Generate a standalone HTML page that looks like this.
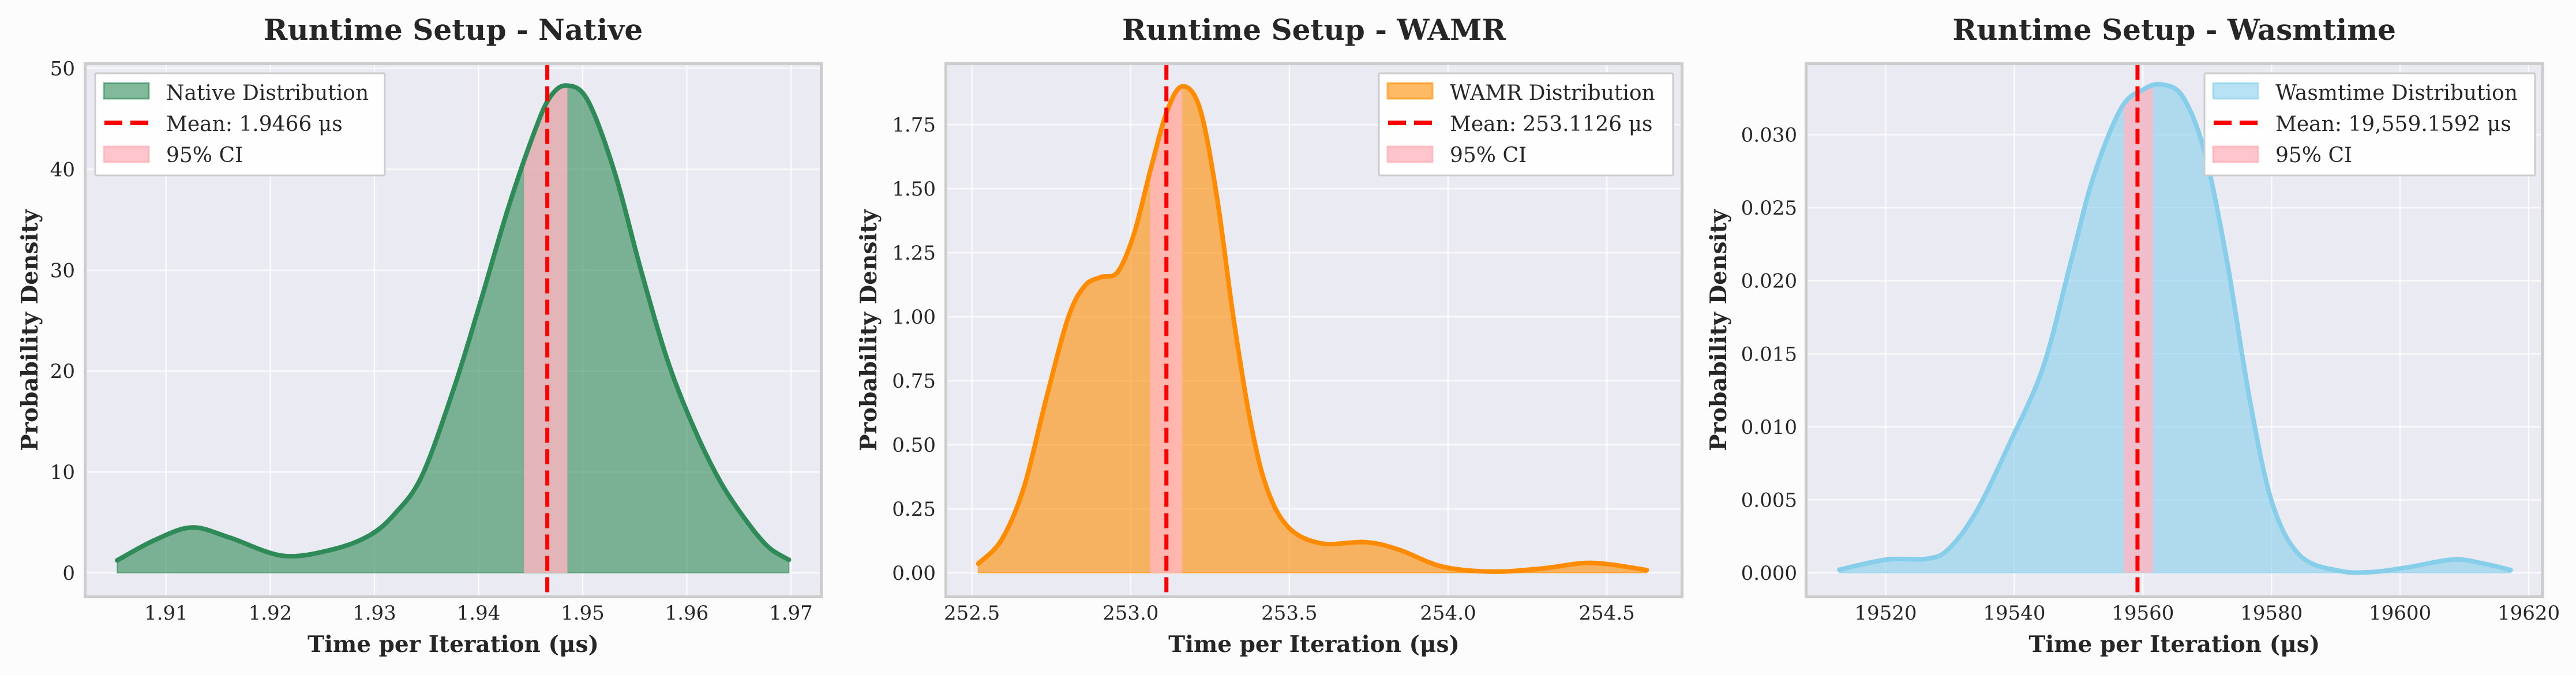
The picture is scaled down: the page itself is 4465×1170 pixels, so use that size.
<!DOCTYPE html>
<html><head><meta charset="utf-8"><style>
html,body{margin:0;padding:0;background:#fcfcfc;}
svg{display:block;font-family:"DejaVu Serif","Liberation Serif",serif;}
</style></head><body>
<svg id="fig" width="4465" height="1170" viewBox="0 0 4465 1170" xmlns="http://www.w3.org/2000/svg">
<rect x="0" y="0" width="4465" height="1170" fill="#fcfcfc"/>
<defs id="defs"></defs>
</svg>
<script>
// ---- data ----
const nativeX = [1.9053,1.909,1.9125,1.9161,1.9212,1.9259,1.9295,1.932,1.9346,1.9377,1.9402,1.9428,1.9454,1.9469,1.9485,1.9505,1.9531,1.9556,1.9582,1.9608,1.9633,1.9659,1.9679,1.9698];
const nativeY = [1.24,3.3,4.5,3.5,1.7,2.3,3.7,5.9,9.7,18.5,26.9,36.0,43.8,47.2,48.3,46.8,39.6,30.0,20.9,14.1,8.9,4.9,2.5,1.3];
const wamrX = [252.52,252.594,252.664,252.734,252.803,252.855,252.907,252.959,253.011,253.063,253.115,253.164,253.219,253.272,253.324,253.376,253.428,253.497,253.601,253.74,253.844,253.983,254.14,254.296,254.452,254.626];
const wamrY = [0.036,0.13,0.335,0.68,0.995,1.12,1.155,1.175,1.325,1.576,1.804,1.90,1.81,1.466,0.995,0.60,0.335,0.178,0.115,0.12,0.091,0.024,0.005,0.017,0.039,0.011];
const wasmX = [19512.8,19520.2,19526.3,19529.7,19534.1,19539.3,19544.5,19548.8,19552.3,19556.6,19560.1,19562.9,19566.2,19569.6,19573.1,19576.6,19580.1,19584.4,19590.5,19595.7,19600.9,19608.3,19613,19617.2];
const wasmY = [0.00022,0.00091,0.00096,0.0016,0.0042,0.0089,0.0141,0.0213,0.0271,0.0318,0.0331,0.03344,0.0326,0.0288,0.0213,0.0119,0.0048,0.0012,0.00014,0.00006,0.00036,0.00091,0.00063,0.0002];
const means = [1.9466, 253.1126, 19559.1592];
const ciLow = [1.94437, 253.0616, 19557.06];
const ciHigh = [1.94853, 253.1625, 19561.57];
const nativeXTicks = [1.91,1.92,1.93,1.94,1.95,1.96,1.97];
const nativeYTicks = [0,10,20,30,40,50];
const wamrXTicks = [252.5,253.0,253.5,254.0,254.5];
const wamrYTicks = [0,0.25,0.5,0.75,1.0,1.25,1.5,1.75];
const wasmXTicks = [19520,19540,19560,19580,19600,19620];
const wasmYTicks = [0,0.005,0.01,0.015,0.02,0.025,0.03];
const titles = ["Runtime Setup - Native","Runtime Setup - WAMR","Runtime Setup - Wasmtime"];
const distLabels = ["Native Distribution","WAMR Distribution","Wasmtime Distribution"];
const meanLabels = ["Mean: 1.9466 μs","Mean: 253.1126 μs","Mean: 19,559.1592 μs"];

const NS="http://www.w3.org/2000/svg";
const svg=document.getElementById('fig');
const defs=document.getElementById('defs');
function mk(tag,attrs,parent){const e=document.createElementNS(NS,tag);for(const k in attrs)e.setAttribute(k,attrs[k]);(parent||svg).appendChild(e);return e;}

const panels=[
 {key:'native',xs:nativeX,ys:nativeY,xt:nativeXTicks,yt:nativeYTicks,xd:[1.90222,1.97291],yd:[-2.373,50.46],L:147.5,R:1423.5,
  stroke:'#2e8b57',fill:'rgba(46,139,87,0.6)',patchStroke:'#2e8b57',xf:v=>v.toFixed(2),yf:v=>String(v),tickR:130,ylabX:51,leg:[165,667]},
 {key:'wamr',xs:wamrX,ys:wamrY,xt:wamrXTicks,yt:wamrYTicks,xd:[252.418,254.737],yd:[-0.0935,1.988],L:1639.5,R:2915.5,
  stroke:'#ff8c00',fill:'rgba(255,140,0,0.6)',patchStroke:'#ff8c00',xf:v=>v.toFixed(1),yf:v=>v.toFixed(2),tickR:1622,ylabX:1505,leg:[2390,2900]},
 {key:'wasmtime',xs:wasmX,ys:wasmY,xt:wasmXTicks,yt:wasmYTicks,xd:[19507.62,19622.15],yd:[-0.00164,0.03486],L:3130.5,R:4407,
  stroke:'#87ceeb',fill:'rgba(135,206,235,0.6)',patchStroke:'#87ceeb',xf:v=>String(v),yf:v=>v.toFixed(3),tickR:3115,ylabX:2978,leg:[3821,4394]}
];
const T=110.5,B=1034.5;

function smooth(pts){
  let d='M'+pts[0][0]+','+pts[0][1];
  for(let i=0;i<pts.length-1;i++){
    const p0=pts[Math.max(0,i-1)],p1=pts[i],p2=pts[i+1],p3=pts[Math.min(pts.length-1,i+2)];
    const c1x=p1[0]+(p2[0]-p0[0])/6,c1y=p1[1]+(p2[1]-p0[1])/6;
    const c2x=p2[0]-(p3[0]-p1[0])/6,c2y=p2[1]-(p3[1]-p1[1])/6;
    d+=' C'+c1x.toFixed(1)+','+c1y.toFixed(1)+' '+c2x.toFixed(1)+','+c2y.toFixed(1)+' '+p2[0].toFixed(1)+','+p2[1].toFixed(1);
  }
  return d;
}

panels.forEach((p,i)=>{
  const sx=v=>p.L+(v-p.xd[0])/(p.xd[1]-p.xd[0])*(p.R-p.L);
  const sy=v=>B-(v-p.yd[0])/(p.yd[1]-p.yd[0])*(B-T);
  const g=mk('g',{});
  
  
  const bg=mk('rect',{x:p.L,y:T,width:p.R-p.L,height:B-T,fill:'#eaeaf2'},g);
  
  
  p.xt.forEach(v=>{
    const x=sx(v);
    const gl=mk('line',{x1:x,x2:x,y1:T,y2:B,stroke:'#ffffff','stroke-width':2.5,opacity:0.8},g);
    
    
    const t=mk('text',{x:x,y:1074,'font-size':34,fill:'#262626','text-anchor':'middle'},g);
    t.textContent=p.xf(v);
    
    
  });
  p.yt.forEach(v=>{
    const y=sy(v);
    const gl=mk('line',{x1:p.L,x2:p.R,y1:y,y2:y,stroke:'#ffffff','stroke-width':2.5,opacity:0.8},g);
    
    
    const t=mk('text',{x:p.tickR,y:y+12,'font-size':34,fill:'#262626','text-anchor':'end'},g);
    t.textContent=p.yf(v);
    
    
  });
  const pts=p.xs.map((x,k)=>[sx(x),sy(p.ys[k])]);
  const line=smooth(pts);
  const y0=sy(0);
  const areaD=line+' L'+pts[pts.length-1][0]+','+y0+' L'+pts[0][0]+','+y0+' Z';
  const area=mk('path',{d:areaD,fill:p.fill,stroke:p.stroke,'stroke-opacity':0.5,'stroke-width':2},g);
  
  
  const cp=mk('clipPath',{id:'clip-'+p.key},defs);
  mk('path',{d:areaD},cp);
  const ci=mk('rect',{x:sx(ciLow[i]),y:T,width:sx(ciHigh[i])-sx(ciLow[i]),height:y0-T,fill:'rgba(255,182,193,0.8)','clip-path':'url(#clip-'+p.key+')'},g);
  
  
  const ln=mk('path',{d:line,fill:'none',stroke:p.stroke,'stroke-width':8,'stroke-linecap':'round','stroke-linejoin':'round'},g);
  
  
  const m=sx(means[i]);
  const ml=mk('line',{x1:m,x2:m,y1:T+2,y2:B,stroke:'#ff0000','stroke-width':7,'stroke-dasharray':'26,11'},g);
  
  
  const fr=mk('rect',{x:p.L,y:T,width:p.R-p.L,height:B-T,fill:'none',stroke:'#cccccc','stroke-width':5},g);
  
  
  const cx=(p.L+p.R)/2;
  const tt=mk('text',{x:cx,y:69,'font-size':50,'font-weight':'bold',fill:'#262626','text-anchor':'middle'},g);
  tt.textContent=titles[i];
  
  
  const xl=mk('text',{x:cx,y:1130,'font-size':39,'font-weight':'bold',fill:'#262626','text-anchor':'middle'},g);
  xl.textContent='Time per Iteration (μs)';
  
  
  const yl=mk('text',{x:0,y:0,'font-size':39,'font-weight':'bold',fill:'#262626','text-anchor':'middle',transform:'translate('+(p.ylabX+14)+','+((T+B)/2)+') rotate(-90)'},g);
  yl.textContent='Probability Density';
  
  
  const lg=mk('g',{},g);
  
  
  const lx=p.leg[0];
  mk('rect',{x:lx,y:127,width:p.leg[1]-lx,height:177,fill:'#ffffff','fill-opacity':0.95,stroke:'#cccccc','stroke-width':3,rx:2},lg);
  const e1=mk('rect',{x:lx+15,y:144,width:78,height:27,fill:p.fill,stroke:p.patchStroke,'stroke-opacity':0.6,'stroke-width':3},lg);
  
  
  const e2=mk('line',{x1:lx+16,x2:lx+92,y1:213,y2:213,stroke:'#ff0000','stroke-width':8,'stroke-dasharray':'31,14'},lg);
  
  
  const e3=mk('rect',{x:lx+15,y:254,width:78,height:27,fill:'rgba(255,182,193,0.8)',stroke:'rgba(255,160,170,0.6)','stroke-width':3},lg);
  
  
  [[distLabels[i],173],[meanLabels[i],227],['95% CI',281]].forEach(([s,y])=>{
    const t=mk('text',{x:lx+123,y:y,'font-size':36,fill:'#262626'},lg);
    t.textContent=s;
    
    
  });
});
</script>
</body></html>
